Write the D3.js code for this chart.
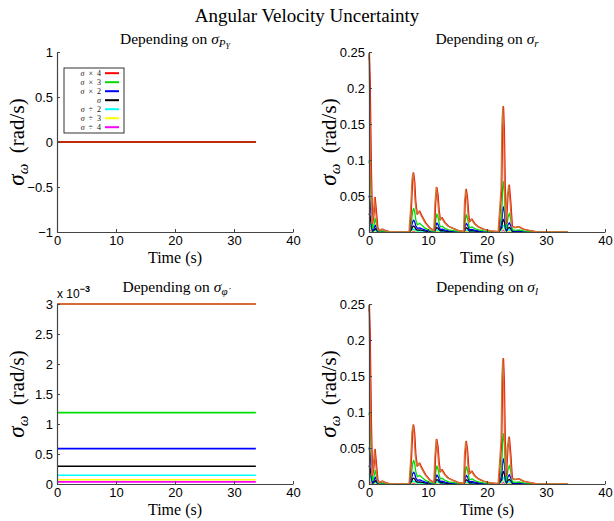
<!DOCTYPE html>
<html><head><meta charset="utf-8">
<script src="https://cdn.jsdelivr.net/npm/d3@7"></script>
<style>body{margin:0;background:#fff} svg{display:block}</style>
</head><body>
<svg id="chart" width="614" height="521"></svg>
<script>
// ---------- data ----------
const time = [0,0.05,0.2,0.4,0.6,0.8,1.05,1.3,1.5,1.8,2.3,2.8,3.5,6.9,7.2,7.4,7.57,7.75,7.95,8.2,8.6,9.0,9.6,10.4,11.1,11.3,11.5,11.7,11.9,12.1,12.4,12.9,13.5,14.3,15.2,16.15,16.3,16.5,16.7,16.9,17.05,17.45,18.0,18.6,19.4,20.6,22.0,22.5,22.65,22.8,22.95,23.1,23.3,23.55,23.8,24.05,24.3,24.8,25.4,26.2,27.3,28.3,33.7];
const sigmaX4 = [0.24,0.248,0.21,0.09,0.012,0.02,0.048,0.025,0.006,0.002,0.004,0.002,0.0005,0.0005,0.035,0.072,0.082,0.07,0.04,0.025,0.029,0.022,0.013,0.005,0.002,0.04,0.062,0.052,0.03,0.017,0.02,0.013,0.008,0.005,0.002,0.001,0.04,0.059,0.048,0.025,0.014,0.018,0.011,0.007,0.004,0.0015,0.0005,0.06,0.15,0.174,0.14,0.06,0.012,0.05,0.065,0.04,0.008,0.006,0.0075,0.004,0.002,0.0005,0.0005];
const sigmaX3 = [0.096,0.099,0.084,0.036,0.005,0.008,0.019,0.010,0.0024,0.0008,0.0016,0.0008,0.0002,0.0002,0.014,0.029,0.033,0.028,0.016,0.010,0.012,0.009,0.005,0.002,0.0008,0.016,0.025,0.021,0.012,0.007,0.008,0.005,0.003,0.002,0.0008,0.0004,0.016,0.024,0.019,0.010,0.0056,0.0072,0.0044,0.0028,0.0016,0.0006,0.0002,0.024,0.060,0.070,0.056,0.024,0.005,0.020,0.026,0.016,0.0032,0.0024,0.003,0.0016,0.0008,0.0002,0.0002];
const sigmaX2 = [0.048,0.050,0.042,0.018,0.0024,0.004,0.0096,0.005,0.0012,0.0004,0.0008,0.0004,0.0001,0.0001,0.007,0.0144,0.0165,0.014,0.008,0.005,0.0058,0.0044,0.0026,0.001,0.0004,0.008,0.0125,0.0104,0.006,0.0034,0.004,0.0026,0.0016,0.001,0.0004,0.0002,0.008,0.012,0.0096,0.005,0.0028,0.0036,0.0022,0.0014,0.0008,0.0003,0.0001,0.012,0.030,0.035,0.028,0.012,0.0024,0.010,0.013,0.008,0.0016,0.0012,0.0015,0.0008,0.0004,0.0001,0.0001];
const sigmaX1 = [0.024,0.025,0.021,0.009,0.0012,0.002,0.0048,0.0025,0.0006,0.0002,0.0004,0.0002,0.0001,0.0001,0.0035,0.0072,0.0082,0.007,0.004,0.0025,0.0029,0.0022,0.0013,0.0005,0.0002,0.004,0.0062,0.0052,0.003,0.0017,0.002,0.0013,0.0008,0.0005,0.0002,0.0001,0.004,0.0059,0.0048,0.0025,0.0014,0.0018,0.0011,0.0007,0.0004,0.0002,0.0001,0.006,0.015,0.0174,0.014,0.006,0.0012,0.005,0.0065,0.004,0.0008,0.0006,0.0008,0.0004,0.0002,0.0001,0.0001];
const sigmaD2 = [0.012,0.0124,0.0105,0.0045,0.0006,0.001,0.0024,0.0012,0.0003,0.0001,0.0002,0.0001,0,0,0.0018,0.0036,0.0041,0.0035,0.002,0.0012,0.0015,0.0011,0.0006,0.0002,0.0001,0.002,0.0031,0.0026,0.0015,0.0008,0.001,0.0006,0.0004,0.0002,0.0001,0,0.002,0.003,0.0024,0.0012,0.0007,0.0009,0.0005,0.0003,0.0002,0.0001,0,0.003,0.0075,0.0087,0.007,0.003,0.0006,0.0025,0.0032,0.002,0.0004,0.0003,0.0004,0.0002,0.0001,0,0];
const sigmaD3 = [0.006,0.0062,0.0052,0.0022,0.0003,0.0005,0.0012,0.0006,0.0002,0,0.0001,0,0,0,0.0009,0.0018,0.002,0.0018,0.001,0.0006,0.0007,0.0005,0.0003,0.0001,0,0.001,0.0015,0.0013,0.0008,0.0004,0.0005,0.0003,0.0002,0.0001,0,0,0.001,0.0015,0.0012,0.0006,0.0004,0.0004,0.0003,0.0002,0.0001,0,0,0.0015,0.0038,0.0043,0.0035,0.0015,0.0003,0.0012,0.0016,0.001,0.0002,0.0002,0.0002,0.0001,0,0,0];
const sigmaD4 = [0.003,0.0031,0.0026,0.0011,0.0002,0.0002,0.0006,0.0003,0.0001,0,0,0,0,0,0.0004,0.0009,0.001,0.0009,0.0005,0.0003,0.0004,0.0003,0.0002,0.0001,0,0.0005,0.0008,0.0007,0.0004,0.0002,0.0002,0.0002,0.0001,0,0,0,0.0005,0.0007,0.0006,0.0003,0.0002,0.0002,0.0001,0.0001,0,0,0,0.0008,0.0019,0.0022,0.0018,0.0008,0.0002,0.0006,0.0008,0.0005,0.0001,0.0001,0.0001,0,0,0,0];
const brownTime = [0,0.01,0.08,0.28,0.48,0.68,0.93,1.18,1.38,1.68,2.18,2.68,3.38,6.78,7.08,7.28,7.45,7.63,7.83,8.08,8.48,8.88,9.48,10.28,10.98,11.18,11.38,11.58,11.78,11.98,12.28,12.78,13.38,14.18,15.08,16.03,16.18,16.38,16.58,16.78,16.93,17.33,17.88,18.48,19.28,20.48,21.88,22.38,22.53,22.68,22.83,22.98,23.18,23.43,23.68,23.93,24.18,24.68,25.28,26.08,27.18,28.18,33.7];
const brownValues = [0.24,0.248,0.21,0.09,0.012,0.02,0.048,0.025,0.006,0.002,0.004,0.002,0.0005,0.0005,0.035,0.072,0.082,0.07,0.04,0.025,0.029,0.022,0.013,0.005,0.002,0.04,0.062,0.052,0.03,0.017,0.02,0.013,0.008,0.005,0.002,0.001,0.04,0.059,0.048,0.025,0.014,0.018,0.011,0.007,0.004,0.0015,0.0005,0.06,0.15,0.174,0.14,0.06,0.012,0.05,0.065,0.04,0.008,0.006,0.0075,0.004,0.002,0.0005,0.0005];

const flatTime = [0, 33.7];
const pyLevels = [0, 0, 0, 0, 0, 0, 0];            // Depending on σ_PY
const phiLevels = [3.0, 1.19, 0.59, 0.295, 0.145, 0.072, 0.036]; // ×10^-3
const phiBrown = 3.0;

const seriesNames = ["× 4", "× 3", "× 2", "", "÷ 2", "÷ 3", "÷ 4"];
const seriesColors = ["#ff0000", "#00dd00", "#0000ff", "#000000", "#00ffff", "#ffff00", "#ff00ff"];
const brownColor = "#c97a34";

const xTicks = [0, 10, 20, 30, 40];
const yTicksPY = [-1, -0.5, 0, 0.5, 1];
const yTicksW = [0, 0.05, 0.1, 0.15, 0.2, 0.25];
const yTicksPhi = [0, 0.5, 1, 1.5, 2, 2.5, 3];

// ---------- drawing ----------
const svg = d3.select("#chart");
const SERIF = "'Liberation Serif','Times New Roman',serif";
const SANS = "'Liberation Sans',Arial,sans-serif";
const AX = "#444";

svg.append("text").attr("x", 307).attr("y", 22).attr("text-anchor", "middle")
  .attr("font-family", SERIF).attr("font-size", 19).text("Angular Velocity Uncertainty");

const fmt = d => (d < 0 ? "\u2212" : "") + String(Math.abs(d));

function panel(opt) {
  const {x0, y0, w, h, yDomain, yTicks, lines, title} = opt;
  const g = svg.append("g").attr("transform", `translate(${x0},${y0})`);
  const x = d3.scaleLinear().domain([0, 40]).range([0, w]);
  const y = d3.scaleLinear().domain(yDomain).range([h, 0]);

  const line = d3.line().x(d => x(d[0])).y(d => y(d[1]));
  lines.forEach(l => {
    g.append("path").datum(d3.zip(l.t, l.v))
      .attr("d", line).attr("fill", "none").attr("stroke", l.color)
      .attr("stroke-width", l.width || 1.3).attr("stroke-linejoin", "round");
  });

  const xa = g.append("g").attr("transform", `translate(0,${h})`)
    .call(d3.axisBottom(x).tickValues(xTicks).tickSizeInner(-3).tickSizeOuter(0).tickPadding(4).tickFormat(fmt));
  const ya = g.append("g")
    .call(d3.axisLeft(y).tickValues(yTicks).tickSizeInner(-3).tickSizeOuter(0).tickPadding(4).tickFormat(opt.yFormat || fmt));
  [xa, ya].forEach(a => {
    a.select(".domain").attr("stroke", AX).attr("stroke-width", 1.2);
    a.selectAll(".tick line").attr("stroke", AX);
    a.selectAll("text").attr("font-family", SANS).attr("font-size", 13).attr("fill", "#000");
  });

  // x label
  g.append("text").attr("x", w / 2).attr("y", h + 31).attr("text-anchor", "middle")
    .attr("font-family", SERIF).attr("font-weight", "normal").attr("font-size", 16).text("Time (s)");
  // y label
  const yl = g.append("text").attr("transform", `translate(${-33},${h / 2}) rotate(-90)`)
    .attr("text-anchor", "middle").attr("font-family", SERIF).attr("font-size", 21);
  yl.append("tspan").attr("font-style", "italic").attr("font-size", 23).text("σ");
  yl.append("tspan").attr("font-style", "italic").attr("font-size", 15).attr("dy", 4).text("ω");
  yl.append("tspan").attr("dy", -4).text("\u2002(rad/s)");

  // subplot title
  const t = g.append("text").attr("x", w / 2).attr("y", title.y - y0).attr("text-anchor", "middle")
    .attr("font-family", SERIF).attr("font-size", 15.5);
  t.append("tspan").text("Depending on ");
  t.append("tspan").attr("font-style", "italic").text("σ");
  title.sub(t);
  return {g, x, y};
}

function curveLines() {
  const vals = [sigmaX4, sigmaX3, sigmaX2, sigmaX1, sigmaD2, sigmaD3, sigmaD4];
  const out = [];
  for (let i = vals.length - 1; i >= 0; i--) out.push({t: time, v: vals[i], color: seriesColors[i]});
  out.push({t: brownTime, v: brownValues, color: brownColor});
  return out;
}

// top-left
const tl = panel({
  x0: 57, y0: 52, w: 236, h: 180, yDomain: [-1, 1], yTicks: yTicksPY,
  lines: pyLevels.map((v, i) => ({t: flatTime, v: [v, v], color: seriesColors[i], width: 1.6})).reverse(),
  title: {y: 44, sub: t => {
    t.append("tspan").attr("font-style", "italic").attr("font-size", 11).attr("dy", 3).text("P");
    t.append("tspan").attr("font-style", "italic").attr("font-size", 8).attr("dy", 2).text("Y");
  }}
});
// legend
const lg = tl.g.append("g").attr("transform", "translate(7,16)");
lg.append("rect").attr("width", 60).attr("height", 65).attr("fill", "#fff").attr("stroke", "#333").attr("stroke-width", 1);
seriesNames.forEach((n, i) => {
  const yy = 5.2 + i * 9;
  const tx = lg.append("text").attr("x", 37).attr("y", yy + 2.8).attr("text-anchor", "end")
    .attr("font-family", SERIF).attr("font-size", 8).attr("fill", "#111");
  tx.append("tspan").attr("font-style", "italic").text("σ");
  if (n) {
    tx.append("tspan").text("\u2002" + n.replace(" ", "\u2002"));
  }
  lg.append("line").attr("x1", 41).attr("x2", 55).attr("y1", yy).attr("y2", yy)
    .attr("stroke", seriesColors[i]).attr("stroke-width", 2);
});

// top-right
panel({
  x0: 369, y0: 52, w: 236, h: 180, yDomain: [0, 0.25], yTicks: yTicksW,
  lines: curveLines(),
  title: {y: 44, sub: t => t.append("tspan").attr("font-style", "italic").attr("font-size", 11).attr("dy", 3).text("r")}
});

// bottom-left
const bl = panel({
  x0: 57, y0: 304, w: 236, h: 180, yDomain: [0, 3], yTicks: yTicksPhi,
  lines: phiLevels.map((v, i) => ({t: flatTime, v: [v, v], color: seriesColors[i], width: 1.6})).reverse()
    .concat([{t: flatTime, v: [phiBrown, phiBrown], color: brownColor, width: 1.6}]),
  title: {y: 292, sub: t => t.append("tspan").attr("font-style", "italic").attr("font-size", 11).attr("dy", 3).text("φ\u0307")}
});
const ex = bl.g.append("text").attr("x", 0).attr("y", -6).attr("font-family", SANS).attr("font-size", 12);
ex.append("tspan").text("x 10");
ex.append("tspan").attr("font-size", 9).attr("dy", -6).attr("font-weight", "bold").text("\u22123");

// bottom-right
panel({
  x0: 369, y0: 304, w: 236, h: 180, yDomain: [0, 0.25], yTicks: yTicksW,
  lines: curveLines(),
  title: {y: 292, sub: t => t.append("tspan").attr("font-style", "italic").attr("font-size", 11).attr("dy", 3).text("l")}
});
</script>
</body></html>
